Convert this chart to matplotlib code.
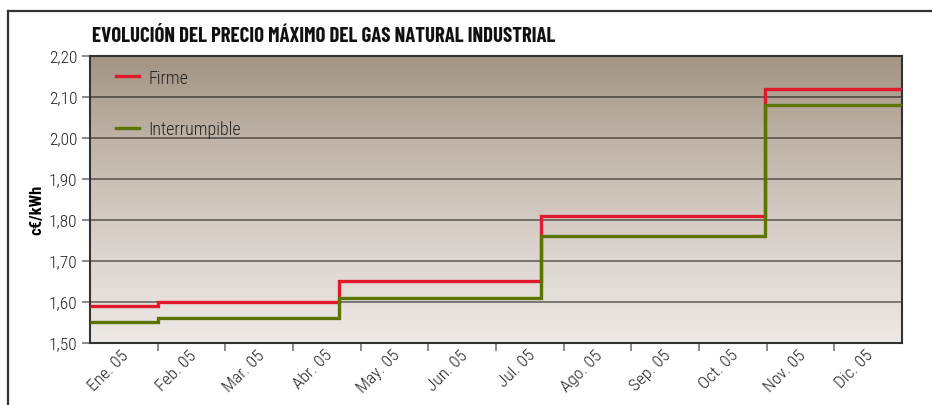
import matplotlib
matplotlib.use("Agg")
import matplotlib.pyplot as plt
import matplotlib.transforms as mtransforms
from matplotlib.lines import Line2D
import numpy as np

plt.rcParams["font.family"] = ["Roboto Condensed", "DejaVu Sans"]

# precio maximo, c€/kWh, tramos entre fechas de revision (en meses desde enero)
meses = ["Ene. 05", "Feb. 05", "Mar. 05", "Abr. 05", "May. 05", "Jun. 05",
         "Jul. 05", "Ago. 05", "Sep. 05", "Oct. 05", "Nov. 05", "Dic. 05"]
cambios = [0, 1.0, 3.68, 6.66, 9.98, 12]
firme = [1.59, 1.60, 1.65, 1.81, 2.12]
interrumpible = [1.55, 1.56, 1.61, 1.76, 2.08]
y_ticks = [1.50, 1.60, 1.70, 1.80, 1.90, 2.00, 2.10, 2.20]

fig = plt.figure(figsize=(9.32, 4.06), dpi=100)
ax = fig.add_axes([90 / 932, 1 - 343.7 / 406, 812 / 932, 287 / 406])

# fondo degradado del area de grafico
stops_y = [0.0, 0.3, 0.7, 1.0]
stops_c = np.array([[237, 233, 230], [221, 214, 208], [192, 180, 168], [163, 148, 132]]) / 255
yy = np.linspace(0, 1, 256)
grad = np.stack([np.interp(yy, stops_y, stops_c[:, i]) for i in range(3)], axis=-1)
ax.imshow(grad[:, None, :], extent=[0, 12, 1.5, 2.2], origin="lower",
          aspect="auto", zorder=0, interpolation="bilinear")

for v in y_ticks[1:-1]:
    ax.axhline(v, color="black", alpha=0.5, lw=1.3, zorder=1)

ax.stairs(firme, cambios, baseline=None, color="#E01A2B", lw=2.4, zorder=3, label="Firme")
ax.stairs(interrumpible, cambios, baseline=None, color="#5B7500", lw=2.4, zorder=3,
          label="Interrumpible")

ax.set_xlim(0, 12)
ax.set_ylim(1.5, 2.2)

ax.set_yticks(y_ticks)
ax.set_yticklabels([f"{v:.2f}".replace(".", ",") for v in y_ticks], fontsize=12.5,
                   color="#222222", fontweight=300)
ax.set_xticks(np.arange(1, 12))
ax.set_xticklabels([])
ax.set_xticks(np.arange(12) + 0.5, minor=True)
ax.set_xticklabels(meses, minor=True, rotation=45, ha="right", fontsize=12.5,
                   color="#222222", fontweight=300)
ax.tick_params(axis="both", which="major", length=6, width=1.2, color="#777777", pad=3)
ax.tick_params(axis="x", which="minor", length=0, pad=3)
shift = mtransforms.ScaledTranslation(8 / 100, 0, fig.dpi_scale_trans)
for lbl in ax.get_xticklabels(minor=True):
    lbl.set_transform(lbl.get_transform() + shift)

for s in ax.spines.values():
    s.set_color("#333333")
    s.set_linewidth(1.5)

ax.set_ylabel("c€/kWh", fontsize=12, fontweight="bold", labelpad=3)
ax.yaxis.label.set_y(0.466)

h = [Line2D([], [], color="#E01A2B", lw=2.4), Line2D([], [], color="#5B7500", lw=2.4)]
leg = ax.legend(h, ["Firme", "Interrumpible"], loc="upper left", bbox_to_anchor=(0.032, 0.955),
                frameon=False, fontsize=13, handlelength=1.25, handletextpad=0.55,
                labelspacing=1.85, borderpad=0, borderaxespad=0)
for t in leg.get_texts():
    t.set_fontweight(300)
    t.set_color("#222222")

fig.text(92 / 932, 1 - 42 / 406, "EVOLUCIÓN DEL PRECIO MÁXIMO DEL GAS NATURAL INDUSTRIAL",
         fontsize=15, fontweight="bold", va="baseline", color="#111111",
         family=["Barlow Condensed", "DejaVu Sans"])

# marco exterior
fig.add_artist(Line2D([7.5 / 932, 7.5 / 932], [0, 1 - 12 / 406], color="#333333", lw=1.6,
                      transform=fig.transFigure))
fig.add_artist(Line2D([7.5 / 932, 1], [1 - 12 / 406, 1 - 12 / 406], color="#333333", lw=1.6,
                      transform=fig.transFigure))

fig.savefig("out.png", dpi=100)
